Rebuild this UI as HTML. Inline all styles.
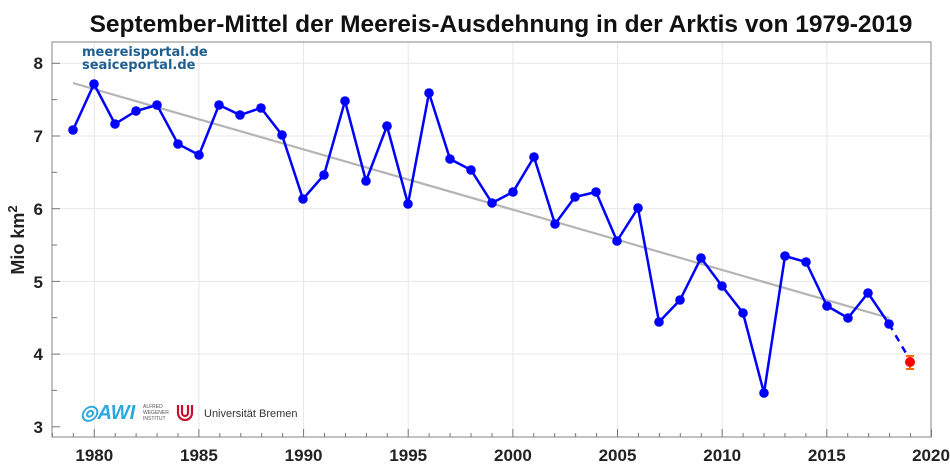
<!DOCTYPE html><html><head><meta charset="utf-8"><style>body{margin:0;background:#fff}svg{display:block}</style></head><body>
<svg width="950" height="475" xmlns="http://www.w3.org/2000/svg" font-family="Liberation Sans, sans-serif">
<rect width="950" height="475" fill="#fff"/>
<text x="501" y="32" font-size="24.5" font-weight="bold" text-anchor="middle" fill="#111">September-Mittel der Meereis-Ausdehnung in der Arktis von 1979-2019</text>
<g stroke="#e6e6e6" stroke-width="1">
<line x1="94.3" y1="42" x2="94.3" y2="437"/><line x1="198.9" y1="42" x2="198.9" y2="437"/><line x1="303.6" y1="42" x2="303.6" y2="437"/><line x1="408.2" y1="42" x2="408.2" y2="437"/><line x1="512.9" y1="42" x2="512.9" y2="437"/><line x1="617.5" y1="42" x2="617.5" y2="437"/><line x1="722.2" y1="42" x2="722.2" y2="437"/><line x1="826.8" y1="42" x2="826.8" y2="437"/>
<line x1="52" y1="63.3" x2="931" y2="63.3"/><line x1="52" y1="136" x2="931" y2="136"/><line x1="52" y1="208.7" x2="931" y2="208.7"/><line x1="52" y1="281.4" x2="931" y2="281.4"/><line x1="52" y1="354.1" x2="931" y2="354.1"/>
</g>
<rect x="52" y="42" width="879" height="395" fill="none" stroke="#999" stroke-width="1.2"/>
<g stroke="#777" stroke-width="1">
<line x1="52" y1="63.3" x2="60" y2="63.3"/><line x1="52" y1="99.6" x2="57" y2="99.6"/><line x1="52" y1="136" x2="60" y2="136"/><line x1="52" y1="172.3" x2="57" y2="172.3"/><line x1="52" y1="208.7" x2="60" y2="208.7"/><line x1="52" y1="245" x2="57" y2="245"/><line x1="52" y1="281.4" x2="60" y2="281.4"/><line x1="52" y1="317.7" x2="57" y2="317.7"/><line x1="52" y1="354.1" x2="60" y2="354.1"/><line x1="52" y1="390.4" x2="57" y2="390.4"/><line x1="52" y1="426.8" x2="60" y2="426.8"/>
</g>
<g id="xt" stroke="#777" stroke-width="1"></g>
<g font-size="17" font-weight="bold" fill="#222" text-anchor="end">
<text x="43" y="69">8</text><text x="43" y="142">7</text><text x="43" y="215">6</text><text x="43" y="288">5</text><text x="43" y="360">4</text><text x="43" y="433">3</text>
</g>
<g font-size="17" font-weight="bold" fill="#222" text-anchor="middle">
<text x="94.3" y="461">1980</text><text x="198.9" y="461">1985</text><text x="303.6" y="461">1990</text><text x="408.2" y="461">1995</text><text x="512.9" y="461">2000</text><text x="617.5" y="461">2005</text><text x="722.2" y="461">2010</text><text x="826.8" y="461">2015</text><text x="931" y="461">2020</text>
</g>
<text transform="translate(24,240) rotate(-90)" font-size="18" font-weight="bold" fill="#222" text-anchor="middle">Mio km<tspan baseline-shift="super" font-size="13">2</tspan></text>
<text x="82" y="56" font-size="13" font-weight="bold" fill="#1f5f8f" font-family="DejaVu Sans, sans-serif">meereisportal.de</text>
<text x="82" y="69" font-size="13" font-weight="bold" fill="#1f5f8f" font-family="DejaVu Sans, sans-serif">seaiceportal.de</text>
<text x="80" y="419" font-size="20" font-weight="bold" fill="#2aa8e0" font-style="italic">◎AWI</text>
<text x="143" y="408" font-size="5" fill="#555">ALFRED</text><text x="143" y="414" font-size="5" fill="#555">WEGENER</text><text x="143" y="420" font-size="5" fill="#555">INSTITUT</text>
<path d="M178 405 v8 a7 7 0 0 0 14 0 v-8 M182 405 v8 a3 3 0 0 0 6 0 v-8" fill="none" stroke="#c8102e" stroke-width="2.2"/>
<text x="204" y="417" font-size="11" fill="#333">Universität Bremen</text>
<line x1="73" y1="83" x2="889" y2="318" stroke="#b4b4b4" stroke-width="2.2"/>
<polyline fill="none" stroke="#0000ff" stroke-width="2.5" points="73,130 94,84 115,124 136,111 157,105 178,144 199,155 219,105 240,115 261,108 282,135 303,199 324,175 345,101 366,181 387,126 408,204 429,93 450,159 471,170 492,203 513,192 534,157 555,224 575,197 596,192 617,241 638,208 659,322 680,300 701,258 722,286 743,313 764,393 785,256 806,262 827,306 848,318 868,293 889,324"/>
<line x1="889" y1="324" x2="910" y2="360" stroke="#0000ff" stroke-width="2.5" stroke-dasharray="7,6"/>
<g fill="#0000ff" id="dots"></g>
<line x1="910" y1="356" x2="910" y2="369" stroke="#ff6a00" stroke-width="2"/>
<line x1="906" y1="356" x2="914" y2="356" stroke="#ff6a00" stroke-width="2"/><line x1="906" y1="369" x2="914" y2="369" stroke="#ff6a00" stroke-width="2"/>
<circle cx="910" cy="362" r="5" fill="#ff0000"/>
<script>
var p="73,130 94,84 115,124 136,111 157,105 178,144 199,155 219,105 240,115 261,108 282,135 303,199 324,175 345,101 366,181 387,126 408,204 429,93 450,159 471,170 492,203 513,192 534,157 555,224 575,197 596,192 617,241 638,208 659,322 680,300 701,258 722,286 743,313 764,393 785,256 806,262 827,306 848,318 868,293 889,324".split(" ");
var g=document.getElementById("dots"),ns="http://www.w3.org/2000/svg";
p.forEach(function(s){var a=s.split(","),c=document.createElementNS(ns,"circle");c.setAttribute("cx",a[0]);c.setAttribute("cy",a[1]);c.setAttribute("r","4.8");g.appendChild(c);});
var t=document.getElementById("xt");
for(var y=1978;y<=2020;y++){var x=52.4+(y-1978)*20.93,l=document.createElementNS(ns,"line");l.setAttribute("x1",x);l.setAttribute("x2",x);l.setAttribute("y1",437);l.setAttribute("y2",y%5==0?429:433);t.appendChild(l);}
</script>
</svg></body></html>
